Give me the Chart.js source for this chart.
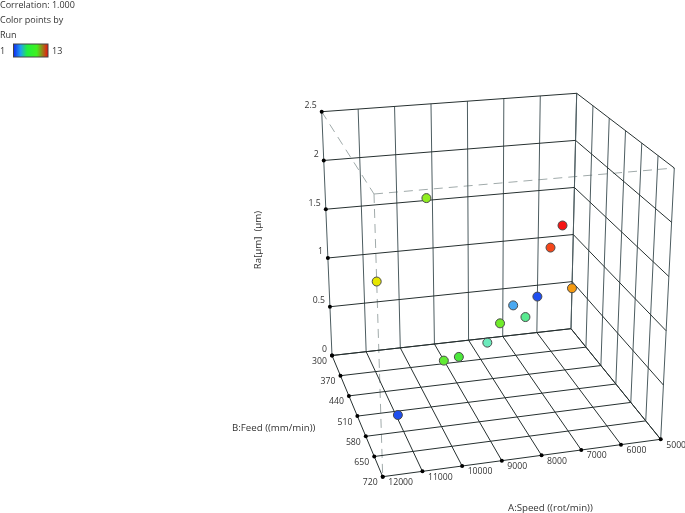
<!DOCTYPE html>
<html>
<head>
<meta charset="utf-8">
<style>
  html, body { margin: 0; padding: 0; background: #fff; }
  #wrap { width: 685px; height: 513px; }
</style>
<script src="https://cdn.jsdelivr.net/npm/chart.js@4/dist/chart.umd.min.js"></script>
</head>
<body>
<div id="wrap"><canvas id="myChart" width="685" height="513"></canvas></div>
<script>
// tick labels
const speedTicks = [12000, 11000, 10000, 9000, 8000, 7000, 6000, 5000];
const feedTicks = [300, 370, 440, 510, 580, 650, 720];
const raTicks = [0, 0.5, 1, 1.5, 2, 2.5];

// runs
const runSpeed = [10950, 6000, 6700, 7670, 6340, 8590, 9020, 7080, 10040, 12000, 5000, 6840, 6540];
const runFeed = [523, 300, 300, 342, 300, 363, 363, 300, 510, 720, 300, 510, 510];
const runRa = [0, 0.38, 0.314, 0.08, 0.177, 0.03, 0.01, 0.14, 2.006, 1.726, 0.43, 1.415, 1.62];
const runColors = ["#1f4ff0", "#1f4ff0", "#4aa8f0", "#6ceabc", "#58ea90", "#4ce83c", "#62ea34", "#70ec2a", "#90ee20", "#e6e600", "#f59a10", "#f5461a", "#f51414"];

// screen position of the 8 corners of the box, [speed 12000/5000][feed 300/720][Ra 0/2.5]
const box = {
  floor: { o: [332, 355.5], u: [571, 328.7], v: [382.7, 476.7], uv: [660.7, 439.3] },
  top: { o: [321.7, 111.7], u: [576.7, 93.3], v: [374, 194], uv: [674.3, 168] },
};

const project = (speed, feed, ra) => {
  const u = (12000 - speed) / 7000;
  const v = (feed - 300) / 420;
  const h = ra / 2.5;
  const corner = (c, i) =>
    c.o[i] * (1 - u) * (1 - v) + c.u[i] * u * (1 - v) + c.v[i] * (1 - u) * v + c.uv[i] * u * v;
  return {
    x: corner(box.floor, 0) * (1 - h) + corner(box.top, 0) * h,
    y: corner(box.floor, 1) * (1 - h) + corner(box.top, 1) * h,
  };
};

// lines are one dataset each style, null breaks the line
const segment = (a, b) => [project(...a), project(...b), { x: null, y: null }];

const horizontalLines = [];
const verticalLines = [];
raTicks.forEach((ra) => {
  horizontalLines.push(...segment([12000, 300, ra], [5000, 300, ra]));
  horizontalLines.push(...segment([5000, 300, ra], [5000, 720, ra]));
});
speedTicks.forEach((speed) => {
  verticalLines.push(...segment([speed, 300, 0], [speed, 300, 2.5]));
  horizontalLines.push(...segment([speed, 300, 0], [speed, 720, 0]));
});
feedTicks.forEach((feed) => {
  horizontalLines.push(...segment([12000, feed, 0], [5000, feed, 0]));
  verticalLines.push(...segment([5000, feed, 0], [5000, feed, 2.5]));
});

const hiddenLines = [
  ...segment([12000, 300, 2.5], [12000, 720, 2.5]),
  ...segment([12000, 720, 2.5], [5000, 720, 2.5]),
  ...segment([12000, 720, 2.5], [12000, 720, 0]),
];

const tickDots = [
  ...raTicks.map((ra) => project(12000, 300, ra)),
  ...feedTicks.map((feed) => project(12000, feed, 0)),
  ...speedTicks.map((speed) => project(speed, 720, 0)),
];

const runPoints = runSpeed.map((speed, i) => project(speed, runFeed[i], runRa[i]));

const lineSet = (data, color, extra) => ({
  data,
  showLine: true,
  spanGaps: false,
  borderColor: color,
  borderWidth: 1,
  pointRadius: 0,
  ...extra,
});

// axis text and the colour key
const textPlugin = {
  id: "boxText",
  afterDatasetsDraw(chart) {
    const { ctx, scales } = chart;
    const put = (text, x, y, align) => {
      ctx.textAlign = align;
      ctx.fillText(text, x, y);
    };
    const at = (p) => ({ x: scales.x.getPixelForValue(p.x), y: scales.y.getPixelForValue(p.y) });

    ctx.save();
    ctx.fillStyle = "#333";
    ctx.textBaseline = "middle";

    ctx.font = '8.7px "Open Sans"';
    raTicks.forEach((ra) => {
      const p = at(project(12000, 300, ra));
      put(String(ra), p.x - 5, p.y - 6, "right");
    });
    feedTicks.forEach((feed) => {
      const p = at(project(12000, feed, 0));
      put(String(feed), p.x - 5, p.y + 6, "right");
    });
    speedTicks.forEach((speed) => {
      const p = at(project(speed, 720, 0));
      put(String(speed), p.x + 5.5, p.y + 6, "left");
    });

    ctx.font = '9.7px "Open Sans"';
    put("A:Speed ((rot/min))", 508, 508, "left");
    put("B:Feed ((mm/min))", 232, 428, "left");

    ctx.save();
    ctx.translate(258, 240);
    ctx.rotate(-Math.PI / 2);
    put("Ra[μm]  (μm)", 0, 0, "center");
    ctx.restore();

    ctx.font = '9px "Open Sans"';
    put("Correlation: 1.000", 0, 5, "left");
    put("Color points by", 0, 20, "left");
    put("Run", 0, 35, "left");
    put("1", 0, 51, "left");
    put("13", 52, 51, "left");

    const key = ctx.createLinearGradient(13, 0, 48, 0);
    key.addColorStop(0, "#1020f0");
    key.addColorStop(0.22, "#20a0f0");
    key.addColorStop(0.4, "#20f040");
    key.addColorStop(0.68, "#40f020");
    key.addColorStop(1, "#f01010");
    ctx.fillStyle = key;
    ctx.fillRect(13.5, 44, 34.5, 13);
    ctx.strokeStyle = "#444";
    ctx.lineWidth = 1;
    ctx.strokeRect(13.5, 44, 34.5, 13);
    ctx.restore();
  },
};

new Chart(document.getElementById("myChart"), {
  type: "scatter",
  data: {
    datasets: [
      {
        data: runPoints,
        pointRadius: 4.5,
        pointBackgroundColor: runColors,
        pointBorderColor: "#4a4a4a",
        pointBorderWidth: 1,
        order: 0,
      },
      {
        data: tickDots,
        pointRadius: 2,
        pointBackgroundColor: "#000",
        pointBorderColor: "#000",
        pointBorderWidth: 0,
        order: 1,
      },
      lineSet(horizontalLines, "#263030", { order: 2 }),
      lineSet(verticalLines, "#4c5c60", { order: 3 }),
      lineSet(hiddenLines, "#a0aaaa", { borderDash: [9, 6], order: 4 }),
    ],
  },
  plugins: [textPlugin],
  options: {
    responsive: false,
    animation: false,
    layout: { padding: 0, autoPadding: false },
    plugins: { legend: { display: false }, tooltip: { enabled: false } },
    scales: {
      x: { type: "linear", min: 0, max: 685, display: false },
      y: { type: "linear", min: 0, max: 513, reverse: true, display: false },
    },
  },
});
</script>
</body>
</html>
